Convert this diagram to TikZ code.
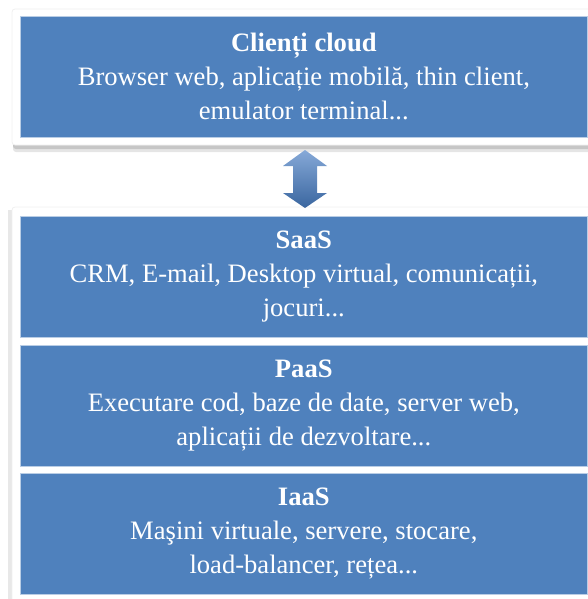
\documentclass[tikz,border=0pt]{standalone}
\usepackage{fontspec}
\setmainfont{Liberation Serif}
\definecolor{boxblue}{HTML}{4F81BD}
\definecolor{edgeblue}{HTML}{B9CDE5}
\definecolor{arrowtop}{HTML}{86A9D8}
\definecolor{arrowbot}{HTML}{3A669F}
\begin{document}
\begin{tikzpicture}[x=1pt,y=-1pt,
  layer/.style={draw=edgeblue, line width=0.6pt, fill=boxblue, text=white, align=center,
    minimum width=567pt, minimum height=121pt, inner sep=0pt, anchor=north west,
    font=\fontsize{26.6}{34}\selectfont},
  frame/.style={fill=white, draw=gray!12, line width=0.8pt, rounded corners=3pt}]
\useasboundingbox (0,0) rectangle (587,599);
% top frame with shadow
\fill[gray!20, rounded corners=3pt] (13,12) rectangle (600,152);
\fill[gray!45, rounded corners=3pt] (13,12) rectangle (600,149);
\path[frame] (12,9) rectangle (600,145);
\node[layer] (clients) at (20,16) {\textbf{Clienți cloud}\\Browser web, aplicație mobilă, thin client,\\emulator terminal...};
% lower frame
\fill[gray!18] (8,210) rectangle (14,610);
\path[frame] (12,207) rectangle (600,610);
\node[layer] (saas) at (20,216) {\textbf{SaaS}\\CRM, E-mail, Desktop virtual, comunicații,\\jocuri...};
\node[layer] (paas) at (20,345) {\textbf{PaaS}\\Executare cod, baze de date, server web,\\aplicații de dezvoltare...};
\node[layer] (iaas) at (20,473) {\textbf{IaaS}\\Maşini virtuale, servere, stocare,\\load-balancer, rețea...};
% double arrow
\shade[top color=arrowtop, bottom color=arrowbot]
  (305,150) -- (327,166) -- (317,166) -- (317,193) -- (327,193) -- (305,208)
  -- (283,193) -- (293,193) -- (293,166) -- (283,166) -- cycle;
\end{tikzpicture}
\end{document}
